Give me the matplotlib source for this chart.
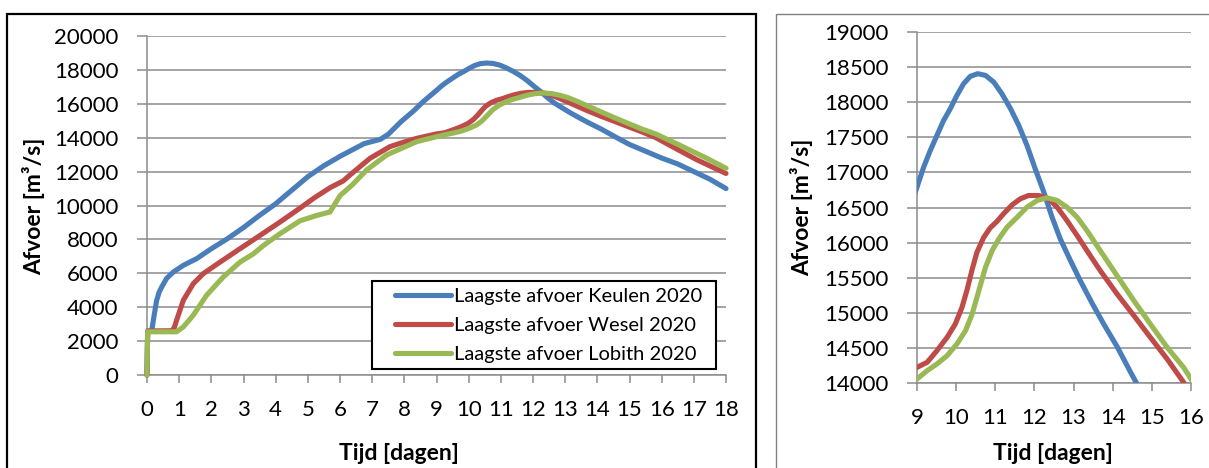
import matplotlib
matplotlib.use('Agg')
import matplotlib.pyplot as plt
from matplotlib.patches import Rectangle
from matplotlib.lines import Line2D

FONT = ['Lato', 'DejaVu Sans']
plt.rcParams['font.family'] = FONT

# ---------------- data (days, discharge m3/s) ----------------
days_keulen = [0, 0.02, 0.15, 0.22, 0.3, 0.38, 0.46, 0.61, 0.82, 1.13, 1.54, 2.0, 2.5, 3.0, 3.5,
               4.0, 4.5, 5.0, 5.5, 6.0, 6.5, 6.75, 7.25, 7.5, 7.9, 8.3, 8.6,
               9.0, 9.17, 9.34, 9.51, 9.68, 9.85, 10.02, 10.19, 10.36, 10.55, 10.75, 10.96,
               11.17, 11.39, 11.60, 11.81, 12.02, 12.24, 12.45, 12.66, 12.92, 13.17, 13.47,
               13.77, 14.11, 14.45, 15.0, 15.5, 16.0, 16.5, 17.0, 17.5, 18.0]
afvoer_keulen = [0, 2550, 2650, 3500, 4400, 4900, 5200, 5700, 6080, 6470, 6860, 7450, 8040, 8700, 9420,
                 10100, 10900, 11700, 12350, 12900, 13400, 13650, 13900, 14200, 14950, 15600, 16150,
                 16790, 17075, 17313, 17527, 17740, 17907, 18097, 18263, 18368, 18406, 18382, 18287,
                 18120, 17907, 17669, 17384, 17051, 16719, 16362, 16053, 15744, 15459, 15140,
                 14840, 14520, 14160, 13600, 13200, 12800, 12450, 12000, 11550, 11000]

days_wesel = [0, 0.02, 0.77, 0.85, 0.92, 1.13, 1.44, 1.75, 2.27, 2.89, 3.51, 4.13, 4.76, 5.2, 5.69,
              6.1, 6.31, 6.93, 7.55, 8.0, 8.38,
              9.0, 9.26, 9.51, 9.77, 9.98, 10.15, 10.28, 10.41, 10.53, 10.70, 10.87, 11.04,
              11.21, 11.43, 11.64, 11.85, 12.11, 12.36, 12.58, 12.83, 13.09, 13.34, 13.68,
              14.11, 14.54, 14.96, 15.39, 15.81, 16.5, 17.09, 18.0]
afvoer_wesel = [0, 2600, 2610, 2800, 3230, 4410, 5390, 5980, 6660, 7450, 8230, 9020, 9850, 10450, 11050,
                11450, 11800, 12780, 13470, 13750, 13960,
                14223, 14295, 14461, 14651, 14842, 15079, 15330, 15620, 15860, 16070, 16210, 16300,
                16410, 16538, 16624, 16671, 16671, 16624, 16505, 16315, 16101, 15887, 15602,
                15269, 14960, 14651, 14342, 14010, 13300, 12700, 11890]

days_lobith = [0, 0.02, 0.92, 1.13, 1.44, 1.85, 2.37, 2.89, 3.31, 3.62, 4.13, 4.76, 5.27, 5.69,
               6.0, 6.4, 6.83, 7.45, 8.38,
               9.0, 9.26, 9.51, 9.77, 10.02, 10.24, 10.41, 10.58, 10.75, 10.92, 11.09, 11.30,
               11.56, 11.81, 12.07, 12.32, 12.58, 12.83, 13.09, 13.34, 13.68, 14.11, 14.54,
               14.96, 15.39, 15.81, 16.0, 16.57, 17.3, 18.0]
afvoer_lobith = [0, 2550, 2550, 2840, 3530, 4700, 5780, 6660, 7150, 7640, 8330, 9100, 9410, 9620,
                 10580, 11250, 12100, 12980, 13765,
                 14057, 14176, 14271, 14390, 14556, 14746, 14984, 15316, 15649, 15887, 16053, 16220,
                 16362, 16505, 16600, 16638, 16600, 16505, 16362, 16172, 15887, 15530, 15174,
                 14841, 14508, 14223, 14057, 13550, 12880, 12200]

series_labels = ['Laagste afvoer Keulen 2020', 'Laagste afvoer Wesel 2020', 'Laagste afvoer Lobith 2020']
series_colors = ['#4A7EBB', '#BE4B48', '#98B954']

x_ticks_left = list(range(0, 19))
y_ticks_left = list(range(0, 20001, 2000))
x_ticks_right = list(range(9, 17))
y_ticks_right = list(range(14000, 19001, 500))

x_label = 'Tijd [dagen]'
y_label = 'Afvoer [m³/s]'

# ---------------- figure ----------------
W, H = 1209, 468
fig = plt.figure(figsize=(W / 100, H / 100), dpi=100)

GRID = '#8C8C8C'
LW = 3.7


def px_axes(x0, y0, x1, y1):
    return fig.add_axes([x0 / W, 1 - y1 / H, (x1 - x0) / W, (y1 - y0) / H])


axL = px_axes(147, 36, 726, 375)
axR = px_axes(917, 32, 1191, 383)

series = [(days_keulen, afvoer_keulen), (days_wesel, afvoer_wesel), (days_lobith, afvoer_lobith)]


def style(ax, xt, yt):
    ax.set_xlim(xt[0], xt[-1])
    ax.set_ylim(yt[0], yt[-1])
    ax.set_xticks(xt)
    ax.set_yticks(yt)
    ax.grid(axis='y', color=GRID, lw=1.1)
    ax.set_axisbelow(True)
    for s in ['top', 'right']:
        ax.spines[s].set_visible(False)
    for s in ['left', 'bottom']:
        ax.spines[s].set_color(GRID)
        ax.spines[s].set_linewidth(1.1)
    ax.tick_params(axis='y', length=7, width=1.1, color=GRID, pad=13.5, labelsize=16)
    ax.tick_params(axis='x', length=6, width=1.1, color=GRID, pad=12, labelsize=16)


for ax, xt, yt, clip in [(axL, x_ticks_left, y_ticks_left, False),
                         (axR, x_ticks_right, y_ticks_right, True)]:
    style(ax, xt, yt)
    for (d, v), c, lab in zip(series, series_colors, series_labels):
        ax.plot(d, v, color=c, lw=LW, solid_capstyle='round', solid_joinstyle='round',
                clip_on=clip, label=lab, zorder=3)

# legend (frame drawn as rectangle)
lx0, lx1, ly0, ly1 = 372, 716, 281, 369
axL.add_patch(Rectangle(((lx0 - 147) / 579, (375 - ly1) / 339), (lx1 - lx0) / 579, (ly1 - ly0) / 339,
                        transform=axL.transAxes, facecolor='white', edgecolor='black', lw=1.5,
                        zorder=5, clip_on=False))
handles = [Line2D([], [], color=c, lw=LW, solid_capstyle='round') for c in series_colors]
leg = axL.legend(handles, series_labels, loc='center left',
                 bbox_to_anchor=((395 - 147) / 579, (375 - 325.7) / 339),
                 frameon=False, fontsize=14.5, handlelength=2.8, handletextpad=0.15,
                 labelspacing=0.6, borderpad=0, borderaxespad=0)
leg.set_zorder(6)

# axis titles
fig.text(399 / W, 1 - 460 / H, x_label, ha='center', va='baseline', fontsize=16.5, fontweight='bold')
fig.text(1053 / W, 1 - 460 / H, x_label, ha='center', va='baseline', fontsize=16.5, fontweight='bold')
fig.text(34 / W, 1 - 206.7 / H, y_label, ha='center', va='center', rotation=90, fontsize=16.5,
         fontweight='bold')
fig.text(802 / W, 1 - 207.5 / H, y_label, ha='center', va='center', rotation=90, fontsize=16.5,
         fontweight='bold')

# chart frames
fig.add_artist(Rectangle((7 / W, -0.1), (756 - 7) / W, 1.1 - 14 / H, transform=fig.transFigure,
                         fill=False, edgecolor='black', lw=1.6))
fig.add_artist(Rectangle((775.5 / W, -0.1), 0.5, 1.1 - 14 / H, transform=fig.transFigure,
                         fill=False, edgecolor='#808080', lw=1.0))

fig.savefig('out.png', dpi=100)
